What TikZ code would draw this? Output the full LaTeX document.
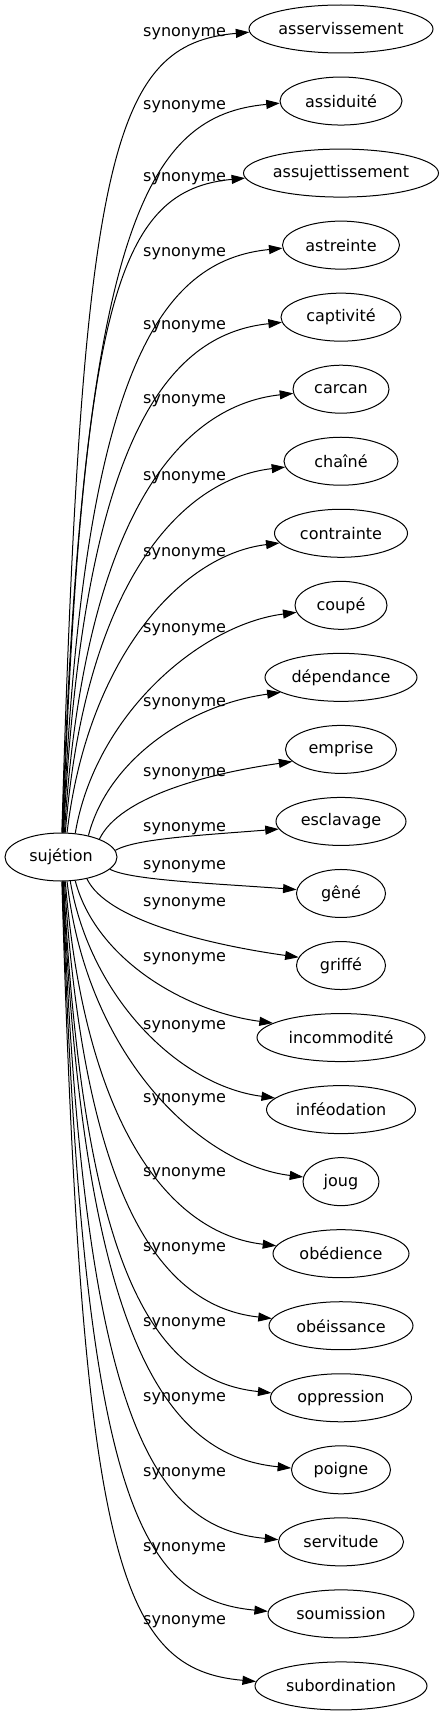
\documentclass[tikz,border=0pt]{standalone}
\usepackage{fontspec}
\setmainfont{DejaVu Sans}
\usetikzlibrary{arrows.meta, calc, shapes.geometric}

\tikzset{
  word/.style={draw, ellipse, line width=1pt, inner sep=0pt, minimum height=48pt},
  lab/.style={anchor=base west, inner sep=0pt},
  syn/.style={-{Triangle[length=13.5pt, width=9pt]}, line width=1pt},
}

\begin{document}
\begin{tikzpicture}[x=1pt, y=-1pt, font=\fontsize{16pt}{19pt}\selectfont]
    \fill [white] (0, 0) rectangle (445, 1715);
    % centre
    \node [word, minimum width=112pt] (suj) at (61, 857) {sujétion};
    % synonymes
    \foreach \name/\rx/\sa/\ea/\ly [count=\i from 0] in {
        asservissement/92/88/182/32, assiduité/61/87/182/105,
        assujettissement/97.5/86/183/177, astreinte/58.5/85/183/252,
        captivité/60/84/185/325, carcan/48/82/185/399,
        chaîné/57/80/186/476, contrainte/66.5/76/189/552,
        coupé/46/59/189/628, dépendance/76/38/194/702,
        emprise/55.5/25/194/772, esclavage/65/7/187/827,
        gêné/44.5/346/175.5/865, griffé/44.5/320/169/902,
        incommodité/84/301/168/957, inféodation/74.5/291/170/1025,
        joug/38/284/173/1098, obédience/68/280/173.5/1172,
        obéissance/72/278/174/1247, oppression/70.5/276/176/1322,
        poigne/49.5/275/178/1397, servitude/62.5/274/178/1472,
        soumission/73/273/178.5/1547, subordination/86/272/177.5/1620} {
      \node [word, minimum width={2pt*\rx}] (n\i) at (341, 29 + 72.04*\i) {\name};
      \node [lab] (l\i) at (143, \ly + 4.4) {synonyme};
      \draw [syn] let \p1 = (suj.\sa), \p2 = (n\i.\ea),
          \n1 = {abs(\y2 - \y1)}, \n2 = {min(0.46*\n1, 118)},
          \n3 = {ifthenelse(\y2 > \y1, 1, -1)}, \n4 = {min(12, 0.3*\n1)} in
        (\p1) .. controls ({\x1 + 20}, {\y2 - (\n3)*\n2})
                      and ({\x2 - 80 - 0.07*\n1}, {\y2 - (\n3)*\n4}) .. (\p2);
    }
\end{tikzpicture}
\end{document}
